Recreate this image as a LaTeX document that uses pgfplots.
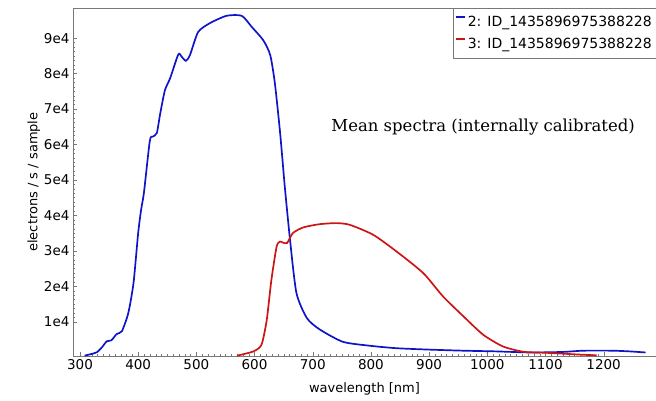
\documentclass[border=0pt]{standalone}
\usepackage{pgfplots}
\pgfplotsset{compat=1.18}
\usepackage{fontspec}
\setmainfont{DejaVu Sans}
\newfontfamily\titlefont{DejaVu Serif}
\definecolor{cblue}{RGB}{15,20,200}
\definecolor{cred}{RGB}{205,20,20}
\definecolor{frame}{RGB}{120,120,120}
\begin{document}
\begin{tikzpicture}
\begin{axis}[
  name=ax,
  scale only axis,
  width=583bp, height=348bp,
  xmin=288, xmax=1290,
  ymin=300, ymax=98500,
  axis line style={frame},
  tick style={frame},
  xtick={300,400,...,1200},
  minor x tick num=9,
  ytick={10000,20000,...,90000},
  yticklabels={1e4,2e4,3e4,4e4,5e4,6e4,7e4,8e4,9e4},
  minor y tick num=7,
  major tick length=4bp,
  minor tick length=2bp,
  xtick pos=bottom, ytick pos=left,
  /pgf/number format/assume math mode=true,
  /pgf/number format/1000 sep={},
  scaled ticks=false,
  tick label style={font=\fontsize{13.5bp}{15bp}\selectfont},
  label style={font=\fontsize{13bp}{15bp}\selectfont},
  xlabel={wavelength [nm]},
  ylabel={electrons / s / sample},
  xlabel style={yshift=-6bp},
  ylabel style={yshift=-3bp},
  legend style={at={(1,1)}, anchor=north east, draw=frame, font=\fontsize{14bp}{16bp}\selectfont,
    inner xsep=2bp, inner ysep=6bp, row sep=6bp, cells={anchor=west}},
  legend image code/.code={\draw[#1, line width=2pt] (0bp,5bp) -- (9bp,5bp);},
  every axis plot/.append style={line width=1.7pt, smooth, tension=0.4},
]
\addplot[cblue] coordinates {
(308,400) (318,800) (329,1350) (338,2800) (346,4450) (354,4730) (363,6500) (372,7300)
(383,12400) (392,20900) (400,35000) (405,41500) (410,46500) (420,61000) (425,62200)
(432,63200) (438,68800) (446,75300) (455,78700) (469,85400) (475,84700) (482,83600)
(489,85200) (503,91700) (523,94200) (552,96300) (578,96300) (595,93200) (615,89400)
(627,85200) (635,77200) (644,63200) (652,48100) (661,33100) (672,18100) (690,11000)
(712,7800) (752,4300) (798,3200) (844,2500) (901,2100) (959,1800) (1016,1600)
(1073,1300) (1130,1450) (1165,1800) (1216,1800) (1245,1600) (1272,1300)
};
\addlegendentry{2: ID\_1435896975388228}
\addplot[cred] coordinates {
(570,400) (598,1600) (612,3500) (621,10500) (629,21800) (638,31200) (644,32600)
(649,32300) (656,32200) (666,35000) (684,36600) (712,37500) (741,37800) (764,37300)
(804,34500) (844,29800) (890,23700) (924,17100) (959,11500) (993,6300) (1027,3000)
(1062,1500) (1102,1200) (1159,700) (1188,500)
};
\addlegendentry{3: ID\_1435896975388228}
\node[anchor=west, font=\titlefont\fontsize{16.5bp}{18bp}\selectfont] at (axis cs:726,65000) {Mean spectra (internally calibrated)};
\end{axis}
\pgfresetboundingbox
\path[use as bounding box] ([xshift=-73bp,yshift=-44bp]ax.south west) rectangle ([yshift=8bp]ax.north east);
\end{tikzpicture}
\end{document}
